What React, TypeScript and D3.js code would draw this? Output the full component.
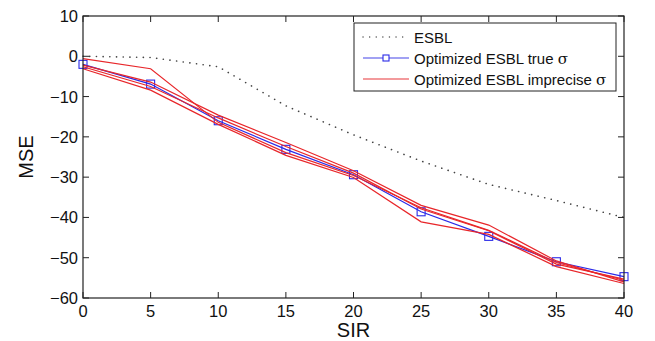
import React from 'react';
import * as d3 from 'd3';

// SIR values on the x axis
const sir = [0, 5, 10, 15, 20, 25, 30, 35, 40];

// ESBL baseline (dotted)
const esbl = [0, -0.3, -2.6, -12.3, -19.5, -26, -31.8, -35.8, -40];

// Optimized ESBL with true sigma (blue, square markers)
const trueSigma = [-2, -6.9, -16, -23.1, -29.4, -38.6, -44.7, -51, -54.7];

// Optimized ESBL with imprecise sigma (red, several runs)
const impreciseRuns = [
  [-0.6, -3.1, -16.4, -23.9, -29.6, -37.6, -43.2, -51.2, -55.6],
  [-2.2, -6.4, -14.6, -21.4, -28.4, -37, -41.9, -50.8, -56],
  [-2.6, -7.5, -15.3, -22.4, -29, -37.9, -43.3, -51.6, -55.3],
  [-3.1, -8.4, -16.9, -24.6, -30.1, -41.1, -44.2, -52.2, -56.4],
];

const xTicks = [0, 5, 10, 15, 20, 25, 30, 35, 40];
const yTicks = [10, 0, -10, -20, -30, -40, -50, -60];
const legendLabels = ['ESBL', 'Optimized ESBL true ', 'Optimized ESBL imprecise '];

const W = 655;
const H = 341;
const margin = { left: 83, right: 31, top: 16, bottom: 43 };
const font = 'Liberation Sans, Arial, Helvetica, sans-serif';

export default function App() {
  const x = d3.scaleLinear().domain([0, 40]).range([margin.left, W - margin.right]);
  const y = d3.scaleLinear().domain([-60, 10]).range([H - margin.bottom, margin.top]);
  const line = d3.line<number>().x((d, i) => x(sir[i])).y((d) => y(d));

  const x0 = x(0), x1 = x(40), y0 = y(-60), y1 = y(10);
  const tick = 6;

  // legend placement
  const lg = { x: 354, y: 23, w: 262, h: 68 };
  const rowY = [37, 58, 79];
  const sampleX0 = 363, sampleX1 = 409, textX = 414;

  return (
    <svg width={W} height={H} style={{ position: 'absolute', left: 0, top: 0, background: '#fff' }}>
      <rect x={0} y={0} width={W} height={H} fill="#fff" />

      {/* data */}
      <path d={line(esbl) || ''} fill="none" stroke="#444" strokeWidth={1.6} strokeDasharray="0.1,6.6" strokeLinecap="round" />
      <path d={line(trueSigma) || ''} fill="none" stroke="#2a2ae8" strokeWidth={1.2} />
      {trueSigma.map((v, i) => (
        <rect key={i} x={x(sir[i]) - 4} y={y(v) - 4} width={8} height={8} fill="none" stroke="#2a2ae8" strokeWidth={1.1} />
      ))}
      {impreciseRuns.map((run, k) => (
        <path key={k} d={line(run) || ''} fill="none" stroke="#e8262a" strokeWidth={1.2} />
      ))}

      {/* axes box */}
      <rect x={x0} y={y1} width={x1 - x0} height={y0 - y1} fill="none" stroke="#222" strokeWidth={1.2} />
      {xTicks.map((t) => (
        <g key={'x' + t}>
          <line x1={x(t)} x2={x(t)} y1={y0} y2={y0 - tick} stroke="#222" strokeWidth={1} />
          <line x1={x(t)} x2={x(t)} y1={y1} y2={y1 + tick} stroke="#222" strokeWidth={1} />
          <text x={x(t)} y={y0 + 19} textAnchor="middle" fontFamily={font} fontSize={16.5} fill="#111">{t}</text>
        </g>
      ))}
      {yTicks.map((t) => (
        <g key={'y' + t}>
          <line x1={x0} x2={x0 + tick} y1={y(t)} y2={y(t)} stroke="#222" strokeWidth={1} />
          <line x1={x1} x2={x1 - tick} y1={y(t)} y2={y(t)} stroke="#222" strokeWidth={1} />
          <text x={x0 - 5} y={y(t) + 6} textAnchor="end" fontFamily={font} fontSize={16.5} fill="#111">
            {t < 0 ? '\u2212' + Math.abs(t) : t}
          </text>
        </g>
      ))}

      {/* axis labels */}
      <text x={(x0 + x1) / 2} y={337} textAnchor="middle" fontFamily={font} fontSize={20} fill="#111">SIR</text>
      <text transform={`translate(33,${(y0 + y1) / 2}) rotate(-90)`} textAnchor="middle" fontFamily={font} fontSize={20} fill="#111">MSE</text>

      {/* legend */}
      <rect x={lg.x} y={lg.y} width={lg.w} height={lg.h} fill="#fff" stroke="#222" strokeWidth={1} />
      <line x1={sampleX0} x2={sampleX1} y1={rowY[0]} y2={rowY[0]} stroke="#555" strokeWidth={1.4} strokeDasharray="0.1,6.5" strokeLinecap="round" />
      <line x1={sampleX0} x2={sampleX1} y1={rowY[1]} y2={rowY[1]} stroke="#4545e8" strokeWidth={1.2} />
      <rect x={(sampleX0 + sampleX1) / 2 - 3} y={rowY[1] - 3} width={6} height={6} fill="#fff" stroke="#2a2ae8" strokeWidth={1.1} />
      <line x1={sampleX0} x2={sampleX1} y1={rowY[2]} y2={rowY[2]} stroke="#e8363a" strokeWidth={1.2} />
      {legendLabels.map((l, i) => (
        <text key={l} x={textX} y={rowY[i] + 5.5} fontFamily={font} fontSize={15} fill="#111">
          {l}
          {i > 0 ? <tspan fontFamily="DejaVu Serif, serif">σ</tspan> : null}
        </text>
      ))}
    </svg>
  );
}
